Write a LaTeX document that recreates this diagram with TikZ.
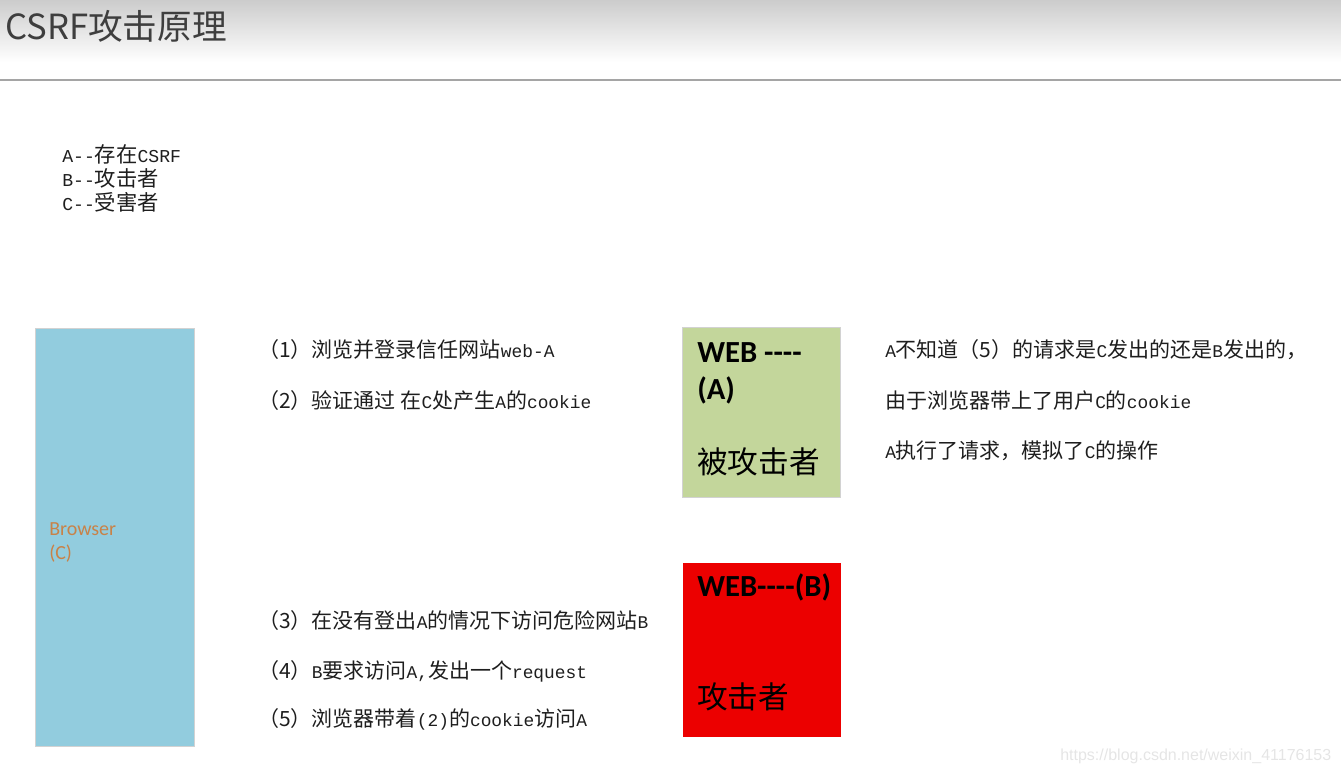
\documentclass[tikz,border=0pt]{standalone}
\usepackage{fontspec}
\setmainfont{Noto Sans CJK SC}
\newfontfamily\monolat[Scale=0.85]{Liberation Mono}
\newfontfamily\carlito{Carlito}
\newfontfamily\arialfont{Liberation Sans}
\newcommand\m[1]{{\monolat #1}}
\usetikzlibrary{positioning}
\definecolor{browserblue}{RGB}{146,204,222}
\definecolor{browsertext}{RGB}{200,130,72}
\definecolor{webgreen}{RGB}{195,214,155}
\definecolor{webred}{RGB}{236,0,0}
\definecolor{rulegray}{RGB}{165,165,165}
\definecolor{titlegray}{RGB}{62,62,62}
\definecolor{texgray}{RGB}{30,30,30}

\begin{document}
\begin{tikzpicture}[x=0.75pt,y=-0.75pt]
  \useasboundingbox (0,0) rectangle (1341,773);
  \tikzset{txt/.style={anchor=base west,inner sep=0pt,text=texgray},
           steptxt/.style={txt,font=\fontsize{15.75}{18}\selectfont},
           legtxt/.style={txt,font=\fontsize{16}{18}\selectfont},
           box/.style={anchor=north west,inner sep=0pt,draw=gray!35,line width=0.75pt},
           webtxt/.style={txt,font=\carlito\bfseries\fontsize{23}{26}\selectfont,text=black},
           roletxt/.style={txt,font=\fontsize{23}{26}\selectfont,text=black}}
  %% header
  \shade[top color=gray!40,bottom color=white] (0,0) rectangle (1341,62);
  \draw[rulegray,line width=1.5pt] (0,80) -- (1341,80);
  \node[txt,font=\fontsize{26}{30}\selectfont,text=titlegray] (title) at (5,40) {CSRF攻击原理};
  %% A, B, C
  \node[legtxt] (legendA) at (62,163) {\m{A--}存在\m{CSRF}};
  \node[legtxt] (legendB) at (62,187) {\m{B--}攻击者};
  \node[legtxt] (legendC) at (62,211) {\m{C--}受害者};
  %% browser (C)
  \node[box,fill=browserblue,minimum width=119.25pt,minimum height=313.5pt] (browser) at (35,328) {};
  \node[txt,font=\carlito\fontsize{15}{18}\selectfont,text=browsertext] (browserName) at (49,535) {Browser};
  \node[txt,font=\carlito\fontsize{15}{18}\selectfont,text=browsertext] (browserC) at (49,559) {(C)};
  %% web A
  \node[box,fill=webgreen,minimum width=118.5pt,minimum height=127.5pt] (webA) at (682,327) {};
  \node[webtxt] (webAName) at (697,362) {WEB ----};
  \node[webtxt] (webAA) at (697,399) {(A)};
  \node[roletxt] (webARole) at (697,473) {被攻击者};
  %% web B
  \node[box,draw=none,fill=webred,minimum width=118.5pt,minimum height=130.5pt] (webB) at (682,562) {};
  \node[webtxt] (webBName) at (697,596) {WEB----(B)};
  \node[roletxt] (webBRole) at (697,708) {攻击者};
  %% steps
  \node[steptxt] (step1) at (258,358) {（1）浏览并登录信任网站\m{web-A}};
  \node[steptxt] (step2) at (258,408) {（2）验证通过 在\m{C}处产生\m{A}的\m{cookie}};
  \node[steptxt] (step3) at (258,628) {（3）在没有登出\m{A}的情况下访问危险网站\m{B}};
  \node[steptxt] (step4) at (258,678) {（4）\m{B}要求访问\m{A,}发出一个\m{request}};
  \node[steptxt] (step5) at (258,726) {（5）浏览器带着\m{(2)}的\m{cookie}访问\m{A}};
  %% notes
  \node[steptxt] (note1) at (885,358) {\m{A}不知道（5）的请求是\m{C}发出的还是\m{B}发出的，};
  \node[steptxt] (note2) at (885,408) {由于浏览器带上了用户\m{C}的\m{cookie}};
  \node[steptxt] (note3) at (885,458) {\m{A}执行了请求，模拟了\m{C}的操作};
  %% watermark
  \node[txt,font=\arialfont\fontsize{12}{14}\selectfont,text=gray!20] (csdn) at (1060,760) {https://blog.csdn.net/weixin\_41176153};
\end{tikzpicture}
\end{document}
